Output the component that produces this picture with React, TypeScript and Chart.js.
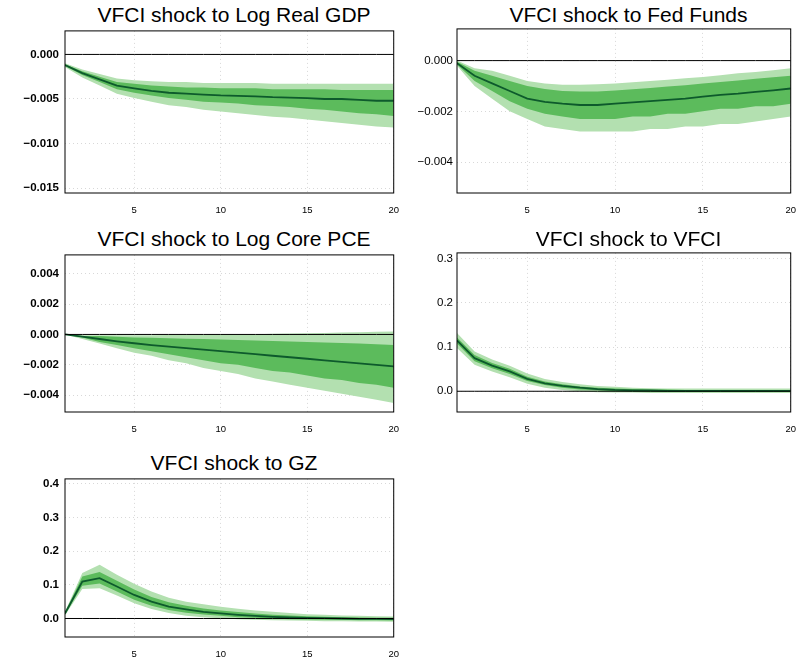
import React, { useEffect, useRef } from "react";
import Chart from "chart.js/auto";

const horizons = [1, 2, 3, 4, 5, 6, 7, 8, 9, 10, 11, 12, 13, 14, 15, 16, 17, 18, 19, 20];
const xTicks = [5, 10, 15, 20];

// Log Real GDP
const gdpMed = [-0.0012, -0.0021, -0.0028, -0.0035, -0.0038, -0.0041, -0.0043, -0.0044, -0.0045, -0.0046, -0.00465, -0.0047, -0.0048, -0.00485, -0.0049, -0.005, -0.005, -0.0051, -0.0052, -0.0052];
const gdpInHi = [-0.0011, -0.0019, -0.0025, -0.0031, -0.0033, -0.0035, -0.0036, -0.0037, -0.0037, -0.0038, -0.0038, -0.0038, -0.0039, -0.0039, -0.0039, -0.0039, -0.004, -0.004, -0.004, -0.004];
const gdpInLo = [-0.0013, -0.0023, -0.0031, -0.0039, -0.0043, -0.0046, -0.0049, -0.0051, -0.0053, -0.0054, -0.0055, -0.0057, -0.0058, -0.0059, -0.0061, -0.0062, -0.0064, -0.0066, -0.0067, -0.0069];
const gdpOutHi = [-0.001, -0.0017, -0.0022, -0.0027, -0.0029, -0.003, -0.0031, -0.0031, -0.0032, -0.0032, -0.0032, -0.0032, -0.0033, -0.0033, -0.0033, -0.0033, -0.0033, -0.0033, -0.0033, -0.0033];
const gdpOutLo = [-0.0014, -0.0026, -0.0035, -0.0044, -0.0049, -0.0053, -0.0057, -0.0059, -0.0062, -0.0064, -0.0066, -0.0068, -0.007, -0.0071, -0.0073, -0.0075, -0.0077, -0.0079, -0.0081, -0.0082];
const gdpTicks = [0, -0.005, -0.01, -0.015];

// Fed Funds
const ffMed = [-0.0001, -0.0006, -0.0009, -0.0012, -0.0015, -0.00163, -0.0017, -0.00175, -0.00175, -0.0017, -0.00165, -0.0016, -0.00155, -0.0015, -0.00142, -0.00135, -0.0013, -0.00123, -0.00117, -0.0011];
const ffInHi = [-0.00005, -0.0004, -0.0006, -0.0008, -0.001, -0.00112, -0.0012, -0.00122, -0.00122, -0.00118, -0.00113, -0.00108, -0.00102, -0.00097, -0.0009, -0.00084, -0.00078, -0.00072, -0.00066, -0.0006];
const ffInLo = [-0.00015, -0.0008, -0.0012, -0.0016, -0.0019, -0.0021, -0.0022, -0.0023, -0.0023, -0.0023, -0.0022, -0.0022, -0.0021, -0.0021, -0.002, -0.0019, -0.0019, -0.0018, -0.0018, -0.0017];
const ffOutHi = [0, -0.0003, -0.0004, -0.0006, -0.0008, -0.0009, -0.00095, -0.00095, -0.00093, -0.0009, -0.00085, -0.0008, -0.00075, -0.0007, -0.00065, -0.00058, -0.0005, -0.00045, -0.00038, -0.0003];
const ffOutLo = [-0.0002, -0.001, -0.0015, -0.002, -0.0023, -0.0026, -0.0027, -0.0028, -0.0028, -0.0028, -0.0028, -0.0027, -0.0027, -0.0026, -0.0026, -0.0025, -0.0025, -0.0024, -0.0023, -0.0022];
const ffTicks = [0, -0.002, -0.004];

// Log Core PCE
const pceMed = [0, -0.00015, -0.0003, -0.00045, -0.00058, -0.0007, -0.0008, -0.0009, -0.001, -0.0011, -0.0012, -0.0013, -0.0014, -0.0015, -0.0016, -0.0017, -0.0018, -0.0019, -0.002, -0.0021];
const pceInHi = [0, -0.0001, -0.0001, -0.00015, -0.0002, -0.00022, -0.00025, -0.00028, -0.0003, -0.00033, -0.00036, -0.0004, -0.00043, -0.00046, -0.0005, -0.00053, -0.00057, -0.0006, -0.00065, -0.0007];
const pceInLo = [0, -0.0002, -0.0005, -0.0007, -0.0009, -0.0011, -0.0013, -0.0015, -0.0017, -0.0019, -0.002, -0.0022, -0.0024, -0.0025, -0.0027, -0.0029, -0.003, -0.0032, -0.0033, -0.0035];
const pceOutHi = [0, -0.00005, -0.00005, -0.00005, -0.00005, -0.00005, -0.00004, -0.00003, -0.00002, -0.00001, 0, 0.00002, 0.00004, 0.00006, 0.00008, 0.0001, 0.00012, 0.00014, 0.00017, 0.0002];
const pceOutLo = [0, -0.0003, -0.0006, -0.0009, -0.0012, -0.0014, -0.0017, -0.0019, -0.0022, -0.0024, -0.0026, -0.0029, -0.0031, -0.0033, -0.0035, -0.0037, -0.0039, -0.0041, -0.0043, -0.0045];
const pceTicks = [0.004, 0.002, 0, -0.002, -0.004];

// VFCI
const vfciMed = [0.115, 0.075, 0.058, 0.045, 0.028, 0.018, 0.012, 0.008, 0.005, 0.003, 0.002, 0.002, 0.001, 0.001, 0.001, 0.001, 0.001, 0.001, 0.001, 0.001];
const vfciInHi = [0.122, 0.082, 0.064, 0.051, 0.033, 0.022, 0.016, 0.011, 0.008, 0.006, 0.005, 0.004, 0.004, 0.003, 0.003, 0.003, 0.003, 0.003, 0.003, 0.003];
const vfciInLo = [0.108, 0.068, 0.052, 0.039, 0.023, 0.014, 0.008, 0.004, 0.002, 0, -0.001, -0.001, -0.001, -0.001, -0.001, -0.001, -0.001, -0.001, -0.001, -0.001];
const vfciOutHi = [0.132, 0.09, 0.072, 0.058, 0.04, 0.028, 0.021, 0.016, 0.012, 0.01, 0.008, 0.007, 0.006, 0.006, 0.006, 0.006, 0.006, 0.006, 0.006, 0.006];
const vfciOutLo = [0.098, 0.06, 0.045, 0.032, 0.017, 0.008, 0.003, 0, -0.002, -0.003, -0.003, -0.004, -0.004, -0.004, -0.004, -0.004, -0.004, -0.004, -0.004, -0.004];
const vfciTicks = [0.3, 0.2, 0.1, 0];

// GZ
const gzMed = [0.015, 0.11, 0.12, 0.095, 0.07, 0.05, 0.035, 0.027, 0.02, 0.015, 0.011, 0.008, 0.005, 0.003, 0.002, 0.001, 0, -0.001, -0.001, -0.002];
const gzInHi = [0.018, 0.125, 0.138, 0.112, 0.086, 0.064, 0.048, 0.038, 0.03, 0.024, 0.019, 0.015, 0.011, 0.009, 0.007, 0.005, 0.004, 0.003, 0.002, 0.002];
const gzInLo = [0.012, 0.097, 0.104, 0.08, 0.056, 0.038, 0.025, 0.017, 0.012, 0.008, 0.004, 0.002, 0, -0.002, -0.003, -0.004, -0.004, -0.005, -0.005, -0.006];
const gzOutHi = [0.02, 0.135, 0.16, 0.13, 0.103, 0.08, 0.062, 0.05, 0.042, 0.035, 0.029, 0.024, 0.02, 0.016, 0.013, 0.011, 0.009, 0.008, 0.007, 0.006];
const gzOutLo = [0.01, 0.088, 0.09, 0.068, 0.045, 0.028, 0.016, 0.008, 0.004, 0.001, -0.002, -0.004, -0.005, -0.006, -0.007, -0.008, -0.008, -0.009, -0.009, -0.01];
const gzTicks = [0.4, 0.3, 0.2, 0.1, 0];

const FONT = "'Liberation Sans', Arial, sans-serif";
const PAD_TOP = 10;
const X_H = 26;
const Y_W = 62;

const boxPlugin = {
  id: "box",
  afterDraw(chart) {
    const { ctx, chartArea: a } = chart;
    ctx.save();
    ctx.strokeStyle = "#000";
    ctx.lineWidth = 1;
    ctx.strokeRect(a.left, a.top, a.right - a.left, a.bottom - a.top);
    ctx.restore();
  },
};

const fmt = (v, d) => (v < 0 ? "\u2212" : "") + Math.abs(v).toFixed(d);

function Panel({ title, med, inHi, inLo, outHi, outLo, ticks, min, max, dec, left, right, top, bottom, bold }) {
  const ref = useRef(null);
  const cl = left - Y_W;
  const cw = right + 8 - cl;
  const ct = top - PAD_TOP;
  const ch = bottom - top + PAD_TOP + X_H;

  useEffect(() => {
    const pt = (arr) => arr.map((y, i) => ({ x: horizons[i], y }));
    const base = { pointRadius: 0, borderWidth: 0, tension: 0 };
    const chart = new Chart(ref.current, {
      type: "line",
      data: {
        datasets: [
          { ...base, order: 4, data: pt(outHi), fill: "+1", backgroundColor: "#b3e0b0" },
          { ...base, order: 4, data: pt(outLo), fill: false },
          { ...base, order: 3, data: pt(inHi), fill: "+1", backgroundColor: "#5cbb5c" },
          { ...base, order: 3, data: pt(inLo), fill: false },
          { ...base, order: 1, data: pt(med), borderWidth: 1.8, borderColor: "#0d5a2c", fill: false },
          { ...base, order: 0, data: horizons.map((x) => ({ x, y: 0 })), borderWidth: 1, borderColor: "#000", fill: false },
        ],
      },
      options: {
        animation: false,
        responsive: false,
        layout: { padding: { top: PAD_TOP, right: 8, left: 0, bottom: 0 } },
        plugins: { legend: { display: false }, tooltip: { enabled: false } },
        scales: {
          x: {
            type: "linear",
            min: 1,
            max: 20,
            afterBuildTicks: (ax) => { ax.ticks = xTicks.map((value) => ({ value })); },
            afterFit: (ax) => { ax.height = X_H; },
            grid: { color: "#d8d8d8", drawTicks: false },
            border: { display: false, dash: [1, 3] },
            ticks: { color: "#000", font: { family: FONT, size: 9.5 }, padding: 12, maxRotation: 0 },
          },
          y: {
            min,
            max,
            afterBuildTicks: (ax) => { ax.ticks = ticks.map((value) => ({ value })); },
            afterFit: (ax) => { ax.width = Y_W; },
            grid: { color: "#d8d8d8", drawTicks: false },
            border: { display: false, dash: [1, 3] },
            ticks: {
              color: "#000",
              font: { family: FONT, size: 11.5, weight: bold ? "bold" : "normal" },
              padding: bold ? 6 : 4,
              callback: (v) => fmt(Number(v), dec),
            },
          },
        },
      },
      plugins: [boxPlugin],
    });
    return () => chart.destroy();
  }, []);

  return (
    <>
      <div
        style={{
          position: "absolute",
          left: left,
          width: right - left,
          top: top - 25,
          textAlign: "center",
          font: `21px ${FONT}`,
          color: "#000",
          whiteSpace: "nowrap",
        }}
      >
        {title}
      </div>
      <canvas ref={ref} width={cw} height={ch} style={{ position: "absolute", left: cl, top: ct, width: cw, height: ch }} />
    </>
  );
}

export default function App() {
  return (
    <div style={{ position: "fixed", left: 0, top: 0, width: 799, height: 665, overflow: "hidden", background: "#fff" }}>
      <Panel title="VFCI shock to Log Real GDP" med={gdpMed} inHi={gdpInHi} inLo={gdpInLo} outHi={gdpOutHi} outLo={gdpOutLo}
        ticks={gdpTicks} min={-0.01555} max={0.00264} dec={3} left={65} right={403} top={28} bottom={193} bold />
      <Panel title="VFCI shock to Fed Funds" med={ffMed} inHi={ffInHi} inLo={ffInLo} outHi={ffOutHi} outLo={ffOutLo}
        ticks={ffTicks} min={-0.00522} max={0.00125} dec={3} left={457} right={800} top={28} bottom={193} />
      <Panel title="VFCI shock to Log Core PCE" med={pceMed} inHi={pceInHi} inLo={pceInLo} outHi={pceOutHi} outLo={pceOutLo}
        ticks={pceTicks} min={-0.0051} max={0.00523} dec={3} left={65} right={403} top={252} bottom={412} bold />
      <Panel title="VFCI shock to VFCI" med={vfciMed} inHi={vfciInHi} inLo={vfciInLo} outHi={vfciOutHi} outLo={vfciOutLo}
        ticks={vfciTicks} min={-0.047} max={0.3135} dec={1} left={457} right={800} top={252} bottom={412} />
      <Panel title="VFCI shock to GZ" med={gzMed} inHi={gzInHi} inLo={gzInLo} outHi={gzOutHi} outLo={gzOutLo}
        ticks={gzTicks} min={-0.055} max={0.415} dec={1} left={65} right={403} top={476} bottom={637} bold />
    </div>
  );
}
